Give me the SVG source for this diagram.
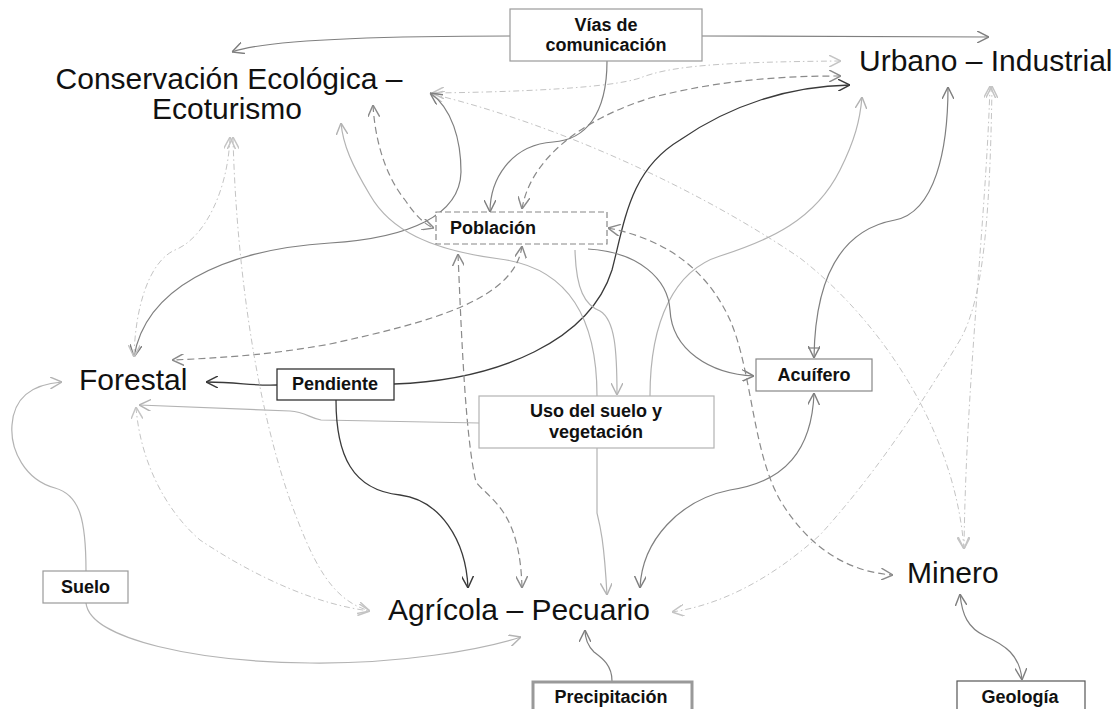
<svg xmlns="http://www.w3.org/2000/svg" width="1118" height="709" viewBox="0 0 1118 709">
<style>
.bg{fill:#fff}
.big{font-family:"Liberation Sans",Arial,sans-serif;font-size:30px;fill:#111}
.lbl{font-family:"Liberation Sans",Arial,sans-serif;font-size:18px;font-weight:bold;fill:#111;text-anchor:middle}
.box{fill:#fff;stroke:#9a9a9a;stroke-width:1.2}
.c{fill:none}
.dark{stroke:#3a3a3a;stroke-width:1.3}
.mid{stroke:#7f7f7f;stroke-width:1.2}
.light{stroke:#b3b3b3;stroke-width:1.2}
.dash{stroke:#8a8a8a;stroke-width:1.2;stroke-dasharray:7 4}
.dd{stroke:#c4c4c4;stroke-width:1;stroke-dasharray:6 3 1.5 3}
</style>
<defs>
<marker id="mDark" viewBox="0 0 10 10" refX="10" refY="5" markerWidth="12" markerHeight="12" markerUnits="userSpaceOnUse" orient="auto-start-reverse"><path d="M0,0 L10,5 L0,10" fill="none" stroke="#3a3a3a" stroke-width="1.2"/></marker>
<marker id="mMid" viewBox="0 0 10 10" refX="10" refY="5" markerWidth="12" markerHeight="12" markerUnits="userSpaceOnUse" orient="auto-start-reverse"><path d="M0,0 L10,5 L0,10" fill="none" stroke="#7f7f7f" stroke-width="1.2"/></marker>
<marker id="mLight" viewBox="0 0 10 10" refX="10" refY="5" markerWidth="12" markerHeight="12" markerUnits="userSpaceOnUse" orient="auto-start-reverse"><path d="M0,0 L10,5 L0,10" fill="none" stroke="#b3b3b3" stroke-width="1.2"/></marker>
<marker id="mDash" viewBox="0 0 10 10" refX="10" refY="5" markerWidth="12" markerHeight="12" markerUnits="userSpaceOnUse" orient="auto-start-reverse"><path d="M0,0 L10,5 L0,10" fill="none" stroke="#8a8a8a" stroke-width="1.2"/></marker>
<marker id="mDD" viewBox="0 0 10 10" refX="10" refY="5" markerWidth="12" markerHeight="12" markerUnits="userSpaceOnUse" orient="auto-start-reverse"><path d="M0,0 L10,5 L0,10" fill="none" stroke="#c4c4c4" stroke-width="1.2"/></marker>
</defs>
<rect class="bg" x="0" y="0" width="1118" height="709"/>
<g id="connectors">
<path class="c mid" d="M510,36 C420,36 270,38 232,52" marker-end="url(#mMid)"/>
<path class="c mid" d="M702,36 L989,37" marker-end="url(#mMid)"/>
<path class="c dd" d="M432,93 C520,92 610,88 640,78 C670,66 720,62 841,61" marker-start="url(#mDD)" marker-end="url(#mDD)"/>
<path class="c dd" d="M432,94 C560,125 700,190 800,258 C880,320 955,430 964,549" marker-start="url(#mDD)" marker-end="url(#mDD)"/>
<path class="c dash" d="M522,209 C530,160 580,120 650,98 C720,80 780,76 841,76" marker-start="url(#mDash)" marker-end="url(#mDash)"/>
<path class="c mid" d="M607,61 C607,115 585,140 553,142 C510,145 490,180 490,212" marker-end="url(#mMid)"/>
<path class="c dark" d="M394,384 C500,380 590,340 612,270 C625,220 630,170 680,140 C730,105 790,86 850,85" marker-end="url(#mDark)"/>
<path class="c mid" d="M430,93 C452,108 461,140 461,172 C460,215 410,238 330,243 C220,250 145,290 134,357" marker-start="url(#mMid)" marker-end="url(#mMid)"/>
<path class="c dash" d="M373,105 C375,140 385,175 405,200 C415,215 425,225 434,228" marker-start="url(#mDash)" marker-end="url(#mDash)"/>
<path class="c light" d="M597,396 C597,320 570,268 500,259 C430,250 390,230 370,195 C352,165 343,145 341,123" marker-end="url(#mLight)"/>
<path class="c light" d="M650,396 C650,320 675,270 720,256 C770,240 815,220 840,170 C855,140 860,120 862,97" marker-end="url(#mLight)"/>
<path class="c light" d="M575,250 C576,290 585,305 600,311 C615,320 617,350 617,395" marker-end="url(#mLight)"/>
<path class="c mid" d="M588,249 C640,252 668,280 670,310 C672,350 710,374 754,376" marker-end="url(#mMid)"/>
<path class="c mid" d="M948,87 C948,150 935,212 895,220 C840,230 815,280 814,358" marker-start="url(#mMid)" marker-end="url(#mMid)"/>
<path class="c mid" d="M808,348 L820,348"/>
<path class="c mid" d="M814,393 C812,450 785,482 730,490 C680,500 642,540 640,588" marker-start="url(#mMid)" marker-end="url(#mMid)"/>
<path class="c dash" d="M608,228 C660,238 705,265 730,320 C752,370 752,450 780,500 C810,550 850,572 893,575" marker-start="url(#mDash)" marker-end="url(#mDash)"/>
<path class="c dash" d="M458,254 C462,350 466,440 476,482 C490,500 520,510 522,588" marker-start="url(#mDash)" marker-end="url(#mDash)"/>
<path class="c dash" d="M522,246 C515,300 430,322 330,344 C270,355 220,358 172,360" marker-start="url(#mDash)" marker-end="url(#mDash)"/>
<path class="c dark" d="M277,385 C250,386 240,382 206,382" marker-end="url(#mDark)"/>
<path class="c light" d="M479,423 L321,420 C310,418 305,412 290,411 L139,405" marker-end="url(#mLight)"/>
<path class="c dark" d="M336,400 C336,455 352,490 400,495 C440,500 466,540 468,588" marker-end="url(#mDark)"/>
<path class="c light" d="M597,448 L597,513 C600,525 604,540 607,595" marker-end="url(#mLight)"/>
<path class="c mid" d="M612,681 C612,665 602,658 594,652 C588,646 585,638 585,630" marker-end="url(#mMid)"/>
<path class="c light" d="M86,603 C90,640 200,662 310,663 C400,664 480,650 521,637" marker-end="url(#mLight)"/>
<path class="c light" d="M86,571 C86,520 80,495 55,488 C25,480 10,450 12,425 C14,395 35,384 62,382" marker-end="url(#mLight)"/>
<path class="c dd" d="M230,137 C228,190 205,238 175,250 C148,262 135,310 134,357" marker-start="url(#mDD)" marker-end="url(#mDD)"/>
<path class="c dd" d="M233,137 C236,260 255,400 290,500 C312,560 330,600 370,611" marker-start="url(#mDD)" marker-end="url(#mDD)"/>
<path class="c dd" d="M136,407 C140,460 165,510 200,540 C260,580 320,605 370,611" marker-start="url(#mDD)" marker-end="url(#mDD)"/>
<path class="c dd" d="M990,86 C986,220 966,380 964,549" marker-start="url(#mDD)" marker-end="url(#mDD)"/>
<path class="c dd" d="M992,86 C990,220 983,300 960,340 C915,415 870,480 820,535 C770,580 720,605 672,612" marker-start="url(#mDD)" marker-end="url(#mDD)"/>
<path class="c mid" d="M960,594 C962,615 968,628 985,636 C1005,645 1020,655 1022,680" marker-start="url(#mMid)" marker-end="url(#mMid)"/>
</g>
<g id="conservacion">
<text class="big" x="229" y="89" text-anchor="middle">Conservación Ecológica –</text>
<text class="big" x="227" y="119" text-anchor="middle">Ecoturismo</text>
</g>
<g id="urbano"><text class="big" x="859" y="71">Urbano – Industrial</text></g>
<g id="forestal"><text class="big" x="79" y="390">Forestal</text></g>
<g id="agricola"><text class="big" x="388" y="620">Agrícola – Pecuario</text></g>
<g id="minero"><text class="big" x="907" y="583">Minero</text></g>
<g id="vias">
<rect class="box" x="510" y="9" width="192" height="52"/>
<text class="lbl" x="606" y="31">Vías de</text>
<text class="lbl" x="606" y="51">comunicación</text>
</g>
<g id="poblacion">
<rect x="436" y="212" width="171" height="32" fill="#fff" stroke="#888" stroke-width="1.2" stroke-dasharray="6 3"/>
<text class="lbl" x="450" y="234" style="text-anchor:start">Población</text>
</g>
<g id="pendiente">
<rect x="277" y="369" width="117" height="31" fill="#fff" stroke="#333" stroke-width="1.3"/>
<text class="lbl" x="335" y="390">Pendiente</text>
</g>
<g id="uso">
<rect class="box" x="479" y="396" width="235" height="52" style="stroke:#b3b3b3"/>
<text class="lbl" x="596" y="417">Uso del suelo y</text>
<text class="lbl" x="596" y="438">vegetación</text>
</g>
<g id="acuifero">
<rect class="box" x="756" y="359" width="116" height="32" style="stroke:#888"/>
<text class="lbl" x="814" y="381">Acuífero</text>
</g>
<g id="suelo">
<rect class="box" x="43" y="571" width="85" height="32"/>
<text class="lbl" x="85.5" y="593">Suelo</text>
</g>
<g id="precipitacion">
<rect x="533" y="682" width="159" height="32" fill="#fff" stroke="#999" stroke-width="3"/>
<text class="lbl" x="611" y="703">Precipitación</text>
</g>
<g id="geologia">
<rect x="957" y="681" width="128" height="34" fill="#fff" stroke="#555" stroke-width="1.2"/>
<text class="lbl" x="1020" y="703">Geología</text>
</g>
</svg>
